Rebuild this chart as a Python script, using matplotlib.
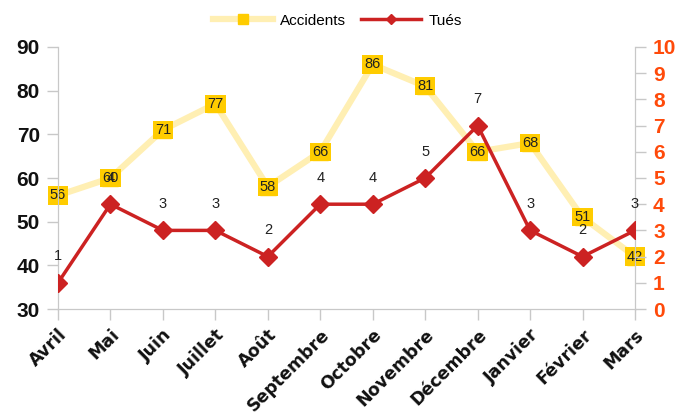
import matplotlib
matplotlib.use("Agg")
from matplotlib import pyplot as plt
import numpy as np

months = ["Avril", "Mai", "Juin", "Juillet", "Août", "Septembre", "Octobre",
          "Novembre", "Décembre", "Janvier", "Février", "Mars"]
accidents = [56, 60, 71, 77, 58, 66, 86, 81, 66, 68, 51, 42]
tues = [1, 4, 3, 3, 2, 4, 4, 5, 7, 3, 2, 3]

acc_line = '#FFEFB3'
acc_mark = '#FFCC00'
tues_col = '#CC2222'
right_col = '#FF4A0A'
spine_col = '#C8C8C8'

fig = plt.figure(figsize=(6.75, 4.19), dpi=100)
ax = fig.add_axes([58/675, 1-309/419, (635-58)/675, (309-47)/419])
ax2 = ax.twinx()

x = np.arange(len(months))

la, = ax.plot(x, accidents, color=acc_line, lw=4.5, marker='s', ms=11,
              mfc=acc_mark, mec=acc_mark, zorder=2, solid_joinstyle='round')
for xi, v in zip(x, accidents):
    ax.text(xi, v, str(v), ha='center', va='center', fontsize=10.5, color='#222222',
            family='Liberation Sans', zorder=3,
            bbox=dict(boxstyle='square,pad=0.15', fc=acc_mark, ec='none'))

lt, = ax2.plot(x, tues, color=tues_col, lw=2.5, marker='D', ms=9,
               mfc=tues_col, mec=tues_col, zorder=4)
for xi, v in zip(x, tues):
    ax2.annotate(str(v), (xi, v), xytext=(0, 14), textcoords='offset points',
                 ha='center', va='bottom', fontsize=10.5, color='#222222',
                 family='Liberation Sans')

ax.set_xlim(0, len(months)-1)
ax.set_ylim(30, 90)
ax2.set_ylim(0, 10)
ax.set_yticks(range(30, 91, 10))
ax2.set_yticks(range(0, 11))
ax.set_xticks(x)
ax.set_xticklabels(months, rotation=45, ha='right', rotation_mode='anchor',
                   fontsize=12.5, fontweight='bold', family='DejaVu Sans')
for lbl in ax.get_yticklabels():
    lbl.set_fontsize(15)
    lbl.set_fontweight('bold')
    lbl.set_family('Liberation Sans')
for lbl in ax2.get_yticklabels():
    lbl.set_fontsize(15)
    lbl.set_fontweight('bold')
    lbl.set_family('Liberation Sans')
    lbl.set_color(right_col)

for a in (ax, ax2):
    a.spines['top'].set_visible(False)
    for s in ('left', 'right', 'bottom'):
        a.spines[s].set_color(spine_col)
    a.tick_params(colors=spine_col, length=8, width=1)
ax.tick_params(axis='y', labelcolor='#111111', pad=5)
ax.tick_params(axis='x', labelcolor='#111111', pad=4)
ax2.tick_params(axis='y', labelcolor=right_col, pad=5)
ax2.set_zorder(ax.get_zorder()+1)
ax2.patch.set_visible(False)

leg = fig.legend([la, lt], ["Accidents", "Tués"], loc='upper center',
                 bbox_to_anchor=(0.5, 1.0), ncol=2, frameon=False,
                 handlelength=3.9, columnspacing=1.0, handletextpad=0.5,
                 prop={'family': 'Liberation Sans', 'size': 11})
leg.legend_handles[0].set_markersize(7.5)
leg.legend_handles[1].set_markersize(5)

fig.savefig("out.png", dpi=100)
